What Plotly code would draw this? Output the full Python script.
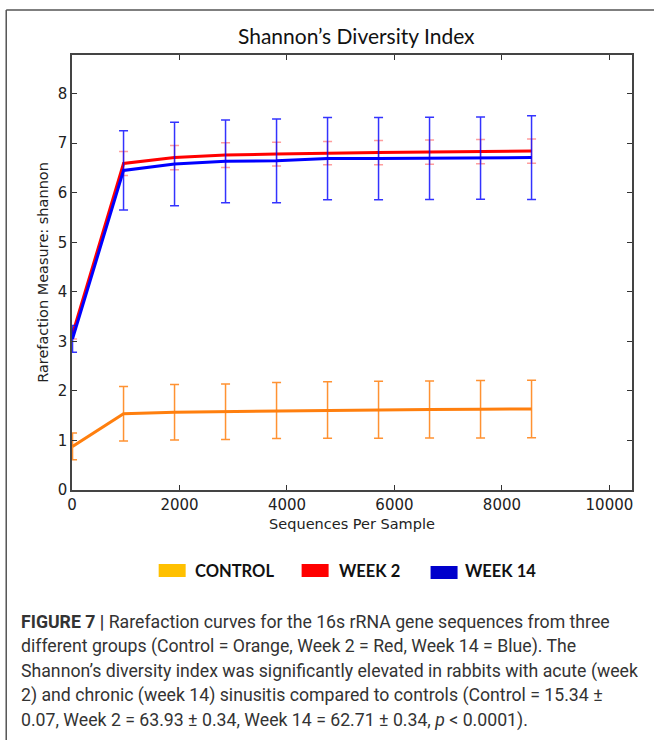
import plotly.graph_objects as go

# ---------------- data ----------------
seqs = [10, 959, 1908, 2857, 3806, 4755, 5704, 6653, 7602, 8551]

control = [0.88, 1.54, 1.57, 1.58, 1.605, 1.615, 1.62, 1.625, 1.63, 1.635]
control_err = [0.27, 0.55, 0.56, 0.56, 0.565, 0.57, 0.575, 0.575, 0.58, 0.58]

week2 = [3.15, 6.59, 6.71, 6.76, 6.78, 6.80, 6.81, 6.82, 6.83, 6.84]
week2_err = [0.10, 0.24, 0.245, 0.25, 0.24, 0.235, 0.245, 0.245, 0.245, 0.245]

week14 = [3.05, 6.45, 6.58, 6.635, 6.645, 6.69, 6.69, 6.695, 6.70, 6.71]
week14_err = [0.27, 0.80, 0.845, 0.835, 0.845, 0.83, 0.83, 0.83, 0.83, 0.845]

x_ticks = [0, 2000, 4000, 6000, 8000, 10000]
x_tick_labels = ["0", "2000", "4000", "6000", "8000", "10000"]
y_ticks = [0, 1, 2, 3, 4, 5, 6, 7, 8]
y_tick_labels = ["0", "1", "2", "3", "4", "5", "6", "7", "8"]

legend_names = ["CONTROL", "WEEK 2", "WEEK 14"]
legend_colors = ["#ffc000", "#ff0000", "#0000cc"]

title_text = "Shannon’s Diversity Index"
x_title = "Sequences Per Sample"
y_title = "Rarefaction Measure: shannon"

caption_lines = [
    "<b>FIGURE 7 |</b> Rarefaction curves for the 16s rRNA gene sequences from three",
    "different groups (Control = Orange, Week 2 = Red, Week 14 = Blue). The",
    "Shannon’s diversity index was significantly elevated in rabbits with acute (week",
    "2) and chronic (week 14) sinusitis compared to controls (Control = 15.34 ±",
    "0.07, Week 2 = 63.93 ± 0.34, Week 14 = 62.71 ± 0.34, <i>p</i> < 0.0001).",
]

# ---------------- layout geometry (pixels) ----------------
W, H = 654, 740
L, R, T, B = 72.3, 632.5, 55, 490


def px(xp):
    return (xp - L) / (R - L)


def py(yp):
    return (B - yp) / (B - T)


fig = go.Figure()

series = [
    ("CONTROL", control, control_err, "#ff7f0e", "rgba(255,127,14,0.85)"),
    ("WEEK 2", week2, week2_err, "#ff0000", "rgba(255,60,60,0.5)"),
    ("WEEK 14", week14, week14_err, "#0000ff", "rgba(0,0,255,0.8)"),
]
for name, vals, errs, col, ecol in series:
    fig.add_trace(go.Scatter(
        x=seqs, y=vals, mode="lines", name=name,
        line=dict(color=col, width=3),
        error_y=dict(type="data", array=errs, visible=True,
                     color=ecol, thickness=1.5, width=4.5),
        showlegend=False,
    ))

tick_font = dict(family="DejaVu Sans", size=15, color="#222")
title_font = dict(family="DejaVu Sans", size=14.5, color="#222")
fig.update_xaxes(
    range=[0, 10420], tickvals=x_ticks, ticktext=x_tick_labels,
    ticks="inside", ticklen=5,
    tickcolor="#333", showline=True, linecolor="#444", linewidth=1.5,
    mirror="ticks", showgrid=False, zeroline=False, tickfont=tick_font,
    title=dict(text=x_title, font=title_font, standoff=6),
    automargin=False,
)
fig.update_yaxes(
    range=[0, 8.78], tickvals=y_ticks, ticktext=y_tick_labels,
    ticks="inside", ticklen=5,
    tickcolor="#333", showline=True, linecolor="#444", linewidth=1.5,
    mirror="ticks", showgrid=False, zeroline=False, tickfont=tick_font,
    title=dict(text=y_title, font=title_font, standoff=6),
    automargin=False,
)

annotations = []
shapes = []

# title
annotations.append(dict(
    x=px(357), y=py(36), xref="paper", yref="paper", text=title_text,
    showarrow=False, xanchor="center", yanchor="middle",
    font=dict(family="Lato", size=21, color="#111"),
))

# figure frame (left and top edges)
shapes.append(dict(type="line", xref="paper", yref="paper",
                   x0=px(6.5), y0=py(10), x1=px(660), y1=py(10),
                   line=dict(color="#555", width=1.5)))
shapes.append(dict(type="line", xref="paper", yref="paper",
                   x0=px(6.5), y0=py(10), x1=px(6.5), y1=py(745),
                   line=dict(color="#555", width=1.5)))

# custom legend
box_x = [159, 302, 431]
text_x = [193, 337, 463]
box_y = [(564, 577), (564, 577), (566, 579)]
for i, nm in enumerate(legend_names):
    shapes.append(dict(type="rect", xref="paper", yref="paper",
                       x0=px(box_x[i]), x1=px(box_x[i] + 27),
                       y0=py(box_y[i][1]), y1=py(box_y[i][0]),
                       fillcolor=legend_colors[i], line=dict(width=0)))
    annotations.append(dict(
        x=px(text_x[i]), y=py(570.5), xref="paper", yref="paper",
        text="<b>" + nm + "</b>", showarrow=False,
        xanchor="left", yanchor="middle",
        font=dict(family="Lato", size=16.5, color="#111"),
    ))

# caption
cap_y = [622, 646.5, 671, 695.5, 720]
for i, line in enumerate(caption_lines):
    annotations.append(dict(
        x=px(19), y=py(cap_y[i]), xref="paper", yref="paper",
        text=line, showarrow=False, xanchor="left", yanchor="middle",
        font=dict(family="Roboto, sans-serif", size=17.7, color="#333"),
    ))

fig.update_layout(
    width=W, height=H,
    margin=dict(l=L, r=W - R, t=T, b=H - B, pad=0, autoexpand=False),
    paper_bgcolor="white", plot_bgcolor="white",
    annotations=annotations, shapes=shapes,
    showlegend=False,
)

fig.write_html(
    "out.html",
    config={"displayModeBar": False},
    post_script="document.body.style.margin='0';document.body.style.padding='0';",
)
